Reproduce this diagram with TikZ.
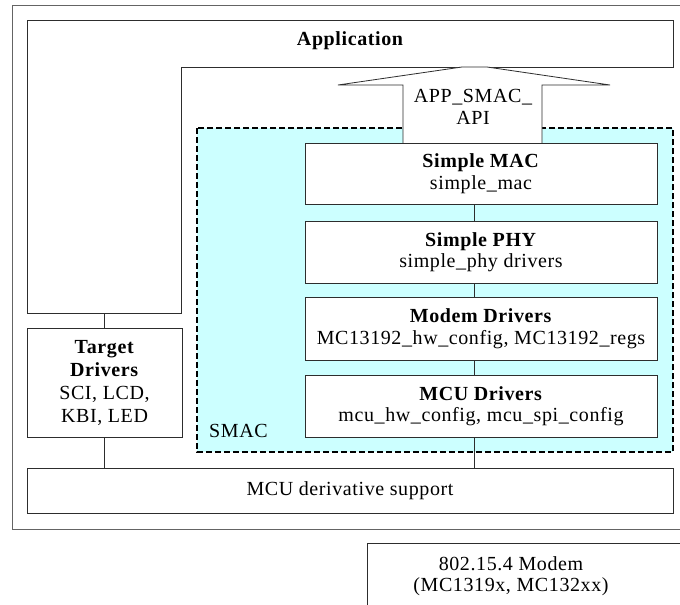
\documentclass[tikz,border=0pt]{standalone}
\usepackage{fontspec}
\setmainfont[LetterSpace=3]{Liberation Serif}
\definecolor{linegray}{RGB}{45,45,45}
\definecolor{framegray}{RGB}{100,100,100}
\definecolor{smaccyan}{RGB}{204,255,255}
\newcommand\diagfont{\fontsize{20}{21.5}\selectfont}
\begin{document}
\begin{tikzpicture}[x=1pt,y=-1pt,
  line/.style={draw=linegray, line width=0.8pt},
  box/.style={line, fill=white, rectangle, inner sep=0pt, align=center, font=\diagfont},
  label/.style={inner sep=0pt, align=center, font=\diagfont},
  link/.style={line}]
\useasboundingbox (0,0) rectangle (680,605);
\fill[white] (0,0) rectangle (680,605);
\clip (0,0) rectangle (680,605);

% outer frame (runs past the right edge)
\draw[draw=framegray, line width=1pt] (12,5) rectangle (700,529);

% Application layer wrapping round the stack
\coordinate (appfoot) at (104.5,313);
\draw[line, fill=white] (27,20) -- (673,20) -- (673,67) -- (181,67) -- (181,313) -- (27,313) -- cycle;
\node[label, font=\diagfont\bfseries] (app) at (350,41) {Application};

% SMAC region
\draw[draw=black, line width=1.6pt, dash pattern=on 6pt off 3pt, fill=smaccyan] (197,128) rectangle (673,452);
\node[label, anchor=west] (smac) at (209,431) {SMAC};

% API arrow into the application
\draw[line, fill=white] (403,143) -- (403,85) -- (338,85) -- (462,67) -- (487,67) -- (610,85) -- (542,85) -- (542,143);
\node[label] (api) at (473,107) {APP\_SMAC\_\\API};

% SMAC stack
\coordinate (spine) at (474,0);
\node[box, minimum width=352pt, minimum height=61pt] (mac) at (481,173.5) {\textbf{Simple MAC}\\simple\_mac};
\node[box, minimum width=352pt, minimum height=62pt] (phy) at (481,252) {\textbf{Simple PHY}\\simple\_phy drivers};
\node[box, minimum width=352pt, minimum height=63pt] (modemdrv) at (481,328.5) {\textbf{Modem Drivers}\\MC13192\_hw\_config, MC13192\_regs};
\node[box, minimum width=352pt, minimum height=62pt] (mcudrv) at (481,406) {\textbf{MCU Drivers}\\mcu\_hw\_config, mcu\_spi\_config};

% target drivers and MCU support
\node[box, minimum width=155pt, minimum height=109pt, font=\fontsize{20}{23}\selectfont] (target) at (104.5,382.5) {\textbf{Target}\\\textbf{Drivers}\\SCI, LCD,\\KBI, LED};
\node[box, minimum width=646pt, minimum height=45pt] (deriv) at (350,490.5) {MCU derivative support};

% modem chip (continues past the picture's edge)
\node[box, anchor=north west, minimum width=353pt, minimum height=80pt] (modem) at (367,543) {};
\node[label] (modemtxt) at (511,576) {802.15.4 Modem\\(MC1319x, MC132xx)};

% connectors
\draw[link] (appfoot) -- (target.north);
\draw[link] (target.south) -- (target.south |- deriv.north);
\draw[link] (mac.south -| spine) -- (phy.north -| spine);
\draw[link] (phy.south -| spine) -- (modemdrv.north -| spine);
\draw[link] (modemdrv.south -| spine) -- (mcudrv.north -| spine);
\draw[link] (mcudrv.south -| spine) -- (deriv.north -| spine);
\end{tikzpicture}
\end{document}
